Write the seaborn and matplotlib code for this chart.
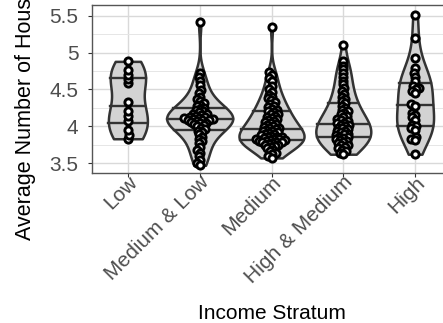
import pandas as pd
import numpy as np
import seaborn as sns
from matplotlib import pyplot as plt
from matplotlib.ticker import MultipleLocator, FuncFormatter

# values, one list per income stratum
strata = ['Low', 'Medium & Low', 'Medium', 'High & Medium', 'High']

low = [3.83, 3.88, 3.95, 4.07, 4.14, 4.21, 4.33, 4.58, 4.64, 4.70, 4.76, 4.88]

medium_low = [5.41, 4.72, 4.67, 4.62, 4.56, 4.49, 4.45,
              4.40, 4.37, 4.34, 4.31, 4.29, 4.27, 4.25, 4.24, 4.22, 4.20,
              4.19, 4.17, 4.16, 4.15, 4.14, 4.13, 4.12, 4.11, 4.11, 4.10,
              4.10, 4.09, 4.09, 4.08, 4.07, 4.06, 4.05, 4.04, 4.03, 4.01,
              4.00, 3.98, 3.96, 3.94, 3.92, 3.89, 3.86, 3.83, 3.80,
              3.77, 3.72, 3.68, 3.64, 3.59, 3.54, 3.50, 3.47]

medium = [5.35, 4.74, 4.70, 4.65, 4.61,
          4.54, 4.50, 4.46, 4.43, 4.40, 4.38, 4.35, 4.33, 4.30, 4.28,
          4.26, 4.24, 4.22, 4.20, 4.19, 4.17, 4.16, 4.14, 4.13, 4.11,
          4.10, 4.08, 4.07, 4.06, 4.04, 4.03, 4.02, 4.00, 3.99, 3.98,
          3.97, 3.96, 3.95, 3.94, 3.93, 3.92, 3.91, 3.90, 3.89, 3.88,
          3.87, 3.86, 3.85, 3.85, 3.84, 3.83, 3.83, 3.82, 3.81, 3.81,
          3.80, 3.80, 3.79, 3.78, 3.78, 3.77, 3.76, 3.75, 3.74, 3.73,
          3.72, 3.70, 3.68, 3.66, 3.64, 3.62, 3.60, 3.57]

high_medium = [5.10, 4.88, 4.82, 4.77, 4.72, 4.67, 4.62, 4.57, 4.52, 4.48,
               4.44, 4.40, 4.37, 4.34, 4.31, 4.28, 4.25, 4.22, 4.20, 4.18,
               4.16, 4.14, 4.12, 4.10, 4.08, 4.07, 4.05, 4.04, 4.02, 4.01,
               4.00, 3.98, 3.97, 3.96, 3.94, 3.93, 3.92, 3.90, 3.89, 3.88,
               3.86, 3.85, 3.84, 3.82, 3.81, 3.80, 3.78, 3.77, 3.75, 3.74,
               3.72, 3.70, 3.68, 3.66, 3.64, 3.62]

high = [5.51, 5.20, 4.92, 4.79, 4.72, 4.67, 4.61, 4.54, 4.52, 4.50, 4.48,
        4.45, 4.30, 4.28, 4.18, 4.15, 4.12, 4.09, 4.02, 4.00, 3.97, 3.95,
        3.86, 3.83, 3.81, 3.62]

groups = [low, medium_low, medium, high_medium, high]
df = pd.DataFrame({
    'stratum': np.repeat(strata, [len(g) for g in groups]),
    'value': np.concatenate(groups),
})

plt.rcParams['font.family'] = ['Liberation Sans', 'DejaVu Sans']

fig = plt.figure(figsize=(4.43, 3.23), dpi=100)
ax = fig.add_axes([92/443, 150/323, 359/443, 168/323])

sns.violinplot(data=df, x='stratum', y='value', order=strata, color='#d3d3d3',
               saturation=1, linecolor='#333333', linewidth=1.8, inner='quart',
               cut=0, density_norm='area', width=0.92, bw_method='silverman',
               bw_adjust=0.9, ax=ax)
# quantile lines solid like ggplot's draw_quantiles
for line in ax.lines:
    line.set_linestyle('-')
    line.set_linewidth(1.7)
    line.set_color('#333333')

ax.set_xlim(-0.6, 4.6)
ax.set_ylim(3.365, 5.645)

# swarm laid out with small dots (like beeswarm cex), then drawn bigger
n_before = len(ax.collections)
sns.swarmplot(data=df, x='stratum', y='value', order=strata, size=2.4,
              color='white', edgecolor='black', linewidth=0.3, ax=ax)
fig.canvas.draw()
for coll in ax.collections[n_before:]:
    if 'draw' in coll.__dict__:
        del coll.draw
    coll.set_sizes([5.2 ** 2])
    coll.set_linewidth(2.1)

ax.yaxis.set_major_locator(MultipleLocator(0.5))
ax.yaxis.set_minor_locator(MultipleLocator(0.25))
ax.yaxis.set_major_formatter(FuncFormatter(lambda v, p: '{:g}'.format(v)))

ax.set_axisbelow(True)
ax.grid(True, which='major', color='#d9d9d9', linewidth=1.0)
ax.grid(True, which='minor', axis='y', color='#e6e6e6', linewidth=0.7)
for s in ax.spines.values():
    s.set_color('#555555')
    s.set_linewidth(1.0)

ax.tick_params(axis='both', which='major', length=2.75, color='#333333',
               labelsize=15, labelcolor='#4d4d4d')
ax.tick_params(axis='y', which='major', pad=7)
ax.tick_params(axis='x', which='major', pad=-3)
ax.tick_params(axis='y', which='minor', length=0)
plt.setp(ax.get_xticklabels(), rotation=45, ha='right', va='top',
         rotation_mode='anchor')

ax.set_xlabel('Income Stratum', fontsize=15, color='black')
ax.xaxis.set_label_coords(0.5, -0.78)
ax.set_ylabel('Average Number of Household Members', fontsize=15.5,
              color='black', ha='left')
ax.yaxis.set_label_coords(-0.155, -0.399)

plt.savefig('out.png', dpi=100)
plt.close()
